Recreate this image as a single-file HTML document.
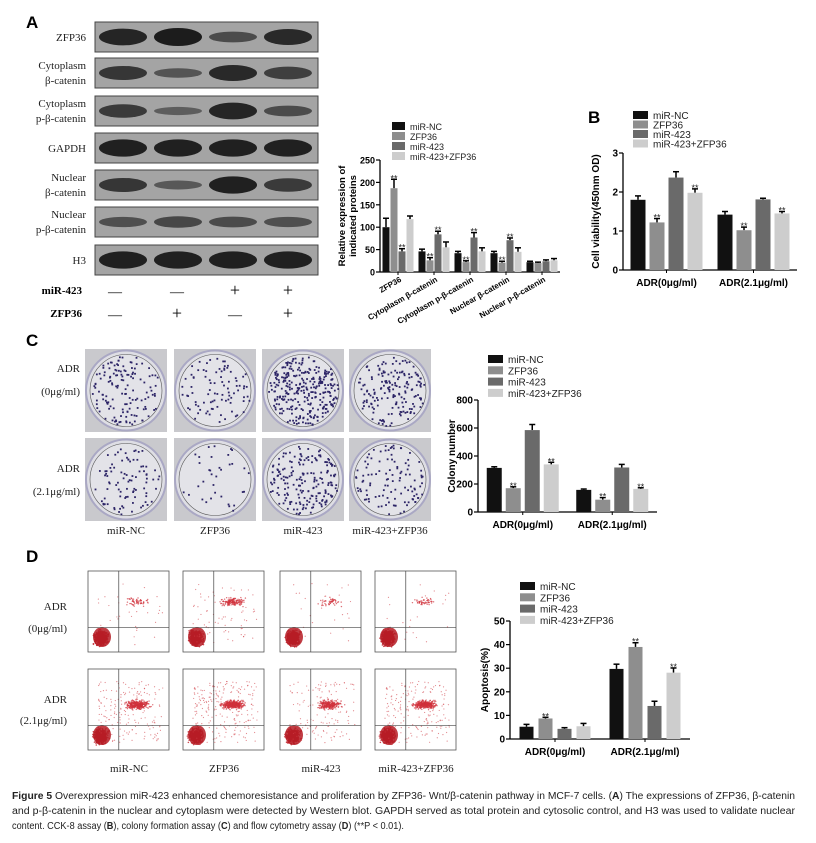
<!DOCTYPE html>
<html><head><meta charset="utf-8"><style>
body{margin:0;background:#fff}
svg{display:block;font-family:"Liberation Sans",sans-serif}
.serif{font-family:"Liberation Serif",serif}
</style></head><body>
<svg id="fig" width="816" height="843" viewBox="0 0 816 843" xmlns="http://www.w3.org/2000/svg">
<g id="blots"></g>
<g id="plates"></g>
<g id="flows"></g>
<g id="charts"></g>
<text x="26" y="28" font-size="17" font-weight="bold">A</text>
<text x="588" y="123" font-size="17" font-weight="bold">B</text>
<text x="26" y="346" font-size="17" font-weight="bold">C</text>
<text x="26" y="562" font-size="17" font-weight="bold">D</text>
<g font-size="10" fill="#222">
<text x="12" y="799" textLength="783" lengthAdjust="spacingAndGlyphs"><tspan font-weight="bold">Figure 5</tspan> Overexpression miR-423 enhanced chemoresistance and proliferation by ZFP36- Wnt/β-catenin pathway in MCF-7 cells. (<tspan font-weight="bold">A</tspan>) The expressions of ZFP36, β-catenin</text>
<text x="12" y="814" textLength="783" lengthAdjust="spacingAndGlyphs">and p-β-catenin in the nuclear and cytoplasm were detected by Western blot. GAPDH served as total protein and cytosolic control, and H3 was used to validate nuclear</text>
<text x="12" y="829" textLength="392" lengthAdjust="spacingAndGlyphs">content. CCK-8 assay (<tspan font-weight="bold">B</tspan>), colony formation assay (<tspan font-weight="bold">C</tspan>) and flow cytometry assay (<tspan font-weight="bold">D</tspan>) (**P &lt; 0.01).</text>
</g>
</svg>
<script>
// ===== data =====
const seriesNames = ["miR-NC","ZFP36","miR-423","miR-423+ZFP36"];
const seriesColors = ["#111111","#8e8e8e","#6a6a6a","#cdcdcd"];

const catsA = ["ZFP36","Cytoplasm β-catenin","Cytoplasm p-β-catenin","Nuclear β-catenin","Nuclear p-β-catenin"];
const valsA = [[100,187,46,118],[46,26,84,55],[42,22,77,46],[42,21,71,45],[22,20,24,26]];
const errA = [[20,20,6,7],[5,6,7,12],[4,3,11,8],[4,3,5,9],[2,2,3,4]];
const starsA = [[0,1,1,0],[0,1,1,0],[0,1,1,0],[0,1,1,0],[0,0,0,0]];
const ticksA = [0,50,100,150,200,250];

const catsB = ["ADR(0μg/ml)","ADR(2.1μg/ml)"];
const valsB = [[1.8,1.22,2.37,1.98],[1.42,1.02,1.81,1.45]];
const errB = [[0.1,0.1,0.15,0.1],[0.08,0.08,0.03,0.05]];
const starsB = [[0,1,0,1],[0,1,0,1]];
const ticksB = [0,1,2,3];

const catsC = ["ADR(0μg/ml)","ADR(2.1μg/ml)"];
const valsC = [[315,170,585,340],[158,88,318,165]];
const errC = [[8,10,40,15],[6,15,22,8]];
const starsC = [[0,1,0,1],[0,1,0,1]];
const ticksC = [0,200,400,600,800];

const catsD = ["ADR(0μg/ml)","ADR(2.1μg/ml)"];
const valsD = [[5.2,8.7,4.3,5.4],[29.7,39,14,28.1]];
const errD = [[1,0.5,0.5,1.2],[2,1.8,2,2]];
const starsD = [[0,1,0,0],[0,1,0,1]];
const ticksD = [0,10,20,30,40,50];

const NS="http://www.w3.org/2000/svg";
function mk(tag,attrs,parent){const e=document.createElementNS(NS,tag);for(const k in attrs)e.setAttribute(k,attrs[k]);if(parent)parent.appendChild(e);return e;}
let seed=12345;function rnd(){seed=(seed*1103515245+12345)%2147483648;return seed/2147483648;}
function gauss(){return (rnd()+rnd()+rnd()-1.5)/1.5;}

// ===== bar chart =====
function barChart(o){
  const g=mk('g',{},document.getElementById('charts'));
  
  
  const yS=v=>o.y0-(v/o.vmax)*(o.y0-o.yTop);
  const ax=mk('line',{x1:o.x0,y1:o.yTop,x2:o.x0,y2:o.y0,stroke:'#000','stroke-width':1.3},g);
  
  const xa=mk('line',{x1:o.x0,y1:o.y0,x2:o.x1,y2:o.y0,stroke:'#000','stroke-width':1.3},g);
  
  o.ticks.forEach(t=>{
    const y=yS(t);
    mk('line',{x1:o.x0-4,y1:y,x2:o.x0,y2:y,stroke:'#000','stroke-width':1.2},g);
    const tx=mk('text',{x:o.x0-5,y:y+3.5,'font-size':o.fs||10,'font-weight':'bold','text-anchor':'end'},g);
    tx.textContent=t;
    
  });
  const n=o.cats.length, gw=(o.x1-o.x0)/n;
  o.cats.forEach((c,i)=>{
    const cx=o.x0+gw*(i+0.5);
    mk('line',{x1:cx,y1:o.y0,x2:cx,y2:o.y0+3,stroke:'#000'},g);
    let lab;
    if(o.rot){lab=mk('text',{x:cx+4,y:o.y0+9,'font-size':8,'font-weight':'bold','text-anchor':'end',transform:`rotate(-30 ${cx+4} ${o.y0+9})`},g);}
    else lab=mk('text',{x:cx,y:o.y0+16,'font-size':10,'font-weight':'bold','text-anchor':'middle'},g);
    lab.textContent=c;
    
    o.vals[i].forEach((v,s)=>{
      const bx=cx+(s-1.5)*o.step-o.bw/2;
      const top=yS(v), et=yS(v+o.err[i][s]);
      mk('line',{x1:bx+o.bw/2,y1:top,x2:bx+o.bw/2,y2:et,stroke:'#000','stroke-width':1.5},g);
      mk('line',{x1:bx+o.bw/2-3,y1:et,x2:bx+o.bw/2+3,y2:et,stroke:'#000','stroke-width':1.5},g);
      const r=mk('rect',{x:bx,y:top,width:o.bw,height:o.y0-top,fill:seriesColors[s]},g);
      
      
      if(o.stars[i][s]){
        const st=mk('text',{x:bx+o.bw/2,y:et+2,'font-size':9,'text-anchor':'middle',fill:'#222'},g);
        st.textContent='**';
        
      }
    });
  });
  const yt=mk('text',{'font-size':o.tfs||10,'font-weight':'bold','text-anchor':'middle',transform:`translate(${o.titleX},${(o.y0+o.yTop)/2}) rotate(-90)`},g);
  o.title.forEach((t,k)=>{const ts=mk('tspan',{x:0,dy:k?11:0},yt);ts.textContent=t;});
  
  const lg=mk('g',{},g);
  
  seriesNames.forEach((nm,s)=>{
    const y=o.legY+s*o.legStep;
    const e=mk('g',{},lg);
    
    mk('rect',{x:o.legX,y:y-4,width:o.legW,height:8,fill:seriesColors[s]},e);
    const t=mk('text',{x:o.legX+o.legW+5,y:y+4,'font-size':o.legFs||10,fill:'#222'},e);t.textContent=nm;
  });
}
barChart({name:'chart-a-protein-expression',cats:catsA,vals:valsA,err:errA,stars:starsA,ticks:ticksA,vmax:250,x0:380,x1:560,y0:272,yTop:160,bw:7,step:8,rot:true,fs:9,tfs:9.5,title:['Relative expression of','indicated proteins'],titleX:345,legX:392,legY:126,legStep:10,legW:13,legFs:9});
barChart({name:'chart-b-cell-viability',cats:catsB,vals:valsB,err:errB,stars:starsB,ticks:ticksB,vmax:3,x0:623,x1:797,y0:270,yTop:153,bw:15,step:19,title:['Cell viability(450nm OD)'],titleX:599,legX:633,legY:115,legStep:9.5,legW:15});
barChart({name:'chart-c-colony-number',cats:catsC,vals:valsC,err:errC,stars:starsC,ticks:ticksC,vmax:800,x0:478,x1:657,y0:512,yTop:400,bw:15,step:19,title:['Colony number'],titleX:455,legX:488,legY:359,legStep:11.3,legW:15});
barChart({name:'chart-d-apoptosis',cats:catsD,vals:valsD,err:errD,stars:starsD,ticks:ticksD,vmax:50,x0:510,x1:690,y0:739,yTop:621,bw:14,step:19,title:['Apoptosis(%)'],titleX:488,legX:520,legY:586,legStep:11.3,legW:15});

// ===== western blots =====
const blotRows=[["ZFP36"],["Cytoplasm","β-catenin"],["Cytoplasm","p-β-catenin"],["GAPDH"],["Nuclear","β-catenin"],["Nuclear","p-β-catenin"],["H3"]];
const blotTop=[22,58,96,133,170,207,245];
const bandInt=[[0.9,1,0.45,0.85],[0.7,0.35,0.85,0.6],[0.65,0.25,0.9,0.45],[0.95,0.95,0.95,0.95],[0.7,0.3,0.95,0.65],[0.4,0.5,0.45,0.4],[0.95,0.95,0.95,0.95]];
const laneX=[123,178,233,288];
const bl=document.getElementById('blots');
blotRows.forEach((lab,r)=>{
  const g=mk('g',{},bl);
  
  
  const y=blotTop[r];
  mk('rect',{x:95,y:y,width:223,height:30,fill:'#a4a4a4',stroke:'#444','stroke-width':1},g);
  bandInt[r].forEach((v,l)=>{
    mk('ellipse',{cx:laneX[l],cy:y+15,rx:24,ry:2.5+v*6.5,fill:'#151515',opacity:0.35+v*0.6},g);
  });
  lab.forEach((t,k)=>{
    const tx=mk('text',{x:86,y:y+(lab.length===1?19:11+k*15),'font-size':11,'text-anchor':'end',class:'serif',fill:'#222'},g);tx.textContent=t;
  });
});
const signs=[["miR-423",290,["—","—","+","+"]],["ZFP36",313,["—","+","—","+"]]];
signs.forEach(([nm,y,s])=>{
  const g=mk('g',{},bl);
  
  
  const t=mk('text',{x:82,y:y+4,'font-size':11,'font-weight':'bold','text-anchor':'end',class:'serif'},g);t.textContent=nm;
  s.forEach((c,l)=>{const e=mk('text',{x:[115,177,235,288][l],y:y+6,'font-size':c==='+'?18:14,'text-anchor':'middle',class:'serif'},g);e.textContent=c;});
});

// ===== colony plates =====
const pl=document.getElementById('plates');
const plateX=[85,174,262,349], plateY=[349,438];
const colonyCount=[[140,90,300,170],[90,35,190,110]];
const plateLabels=["miR-NC","ZFP36","miR-423","miR-423+ZFP36"];
plateY.forEach((py,r)=>{
  plateX.forEach((px,c)=>{
    const g=mk('g',{},pl);
    
    
    mk('rect',{x:px,y:py,width:82,height:83,fill:'#c9c9cd'},g);
    mk('circle',{cx:px+41,cy:py+41.5,r:40,fill:'#dedee4',stroke:'#aaa8c4','stroke-width':2},g);
    mk('circle',{cx:px+41,cy:py+41.5,r:36,fill:'#e3e3e8',stroke:'#555','stroke-width':0.6},g);
    for(let k=0;k<colonyCount[r][c];k++){
      const a=rnd()*Math.PI*2, rr=Math.sqrt(rnd())*35;
      mk('rect',{x:px+41+Math.cos(a)*rr,y:py+41.5+Math.sin(a)*rr,width:1.8,height:1.8,fill:'#2c2466'},g);
    }
  });
});
[["ADR",372],["(0μg/ml)",395],["ADR",472],["(2.1μg/ml)",495]].forEach(([t,y])=>{const e=mk('text',{x:80,y:y,'font-size':11,'text-anchor':'end',class:'serif',fill:'#222'},pl);e.textContent=t;});
plateLabels.forEach((t,c)=>{const e=mk('text',{x:plateX[c]+41,y:534,'font-size':11,'text-anchor':'middle',class:'serif',fill:'#222'},pl);e.textContent=t;});

// ===== flow cytometry =====
const fl=document.getElementById('flows');
const flowX=[88,183,280,375], flowY=[571,669];
const upperDensity=[[60,150,50,50],[350,420,260,360]];
flowY.forEach((py,r)=>{
  flowX.forEach((px,c)=>{
    const g=mk('g',{},fl);
    
    
    const w=81,h=81;
    mk('rect',{x:px,y:py,width:w,height:h,fill:'#fff',stroke:'#555','stroke-width':0.8},g);
    for(let k=0;k<500;k++){mk('circle',{cx:px+13+gauss()*9,cy:py+h-14+gauss()*10,r:0.8,fill:'#c0202a',opacity:0.8},g);}
    mk('ellipse',{cx:px+14,cy:py+h-15,rx:9,ry:10,fill:'#b51c24',opacity:0.85},g);
    for(let k=0;k<upperDensity[r][c];k++){mk('circle',{cx:px+50+gauss()*16,cy:py+h*0.38+gauss()*6+(r?5:0),r:0.7,fill:'#d0303a',opacity:0.7},g);}
    for(let k=0;k<upperDensity[r][c]/2;k++){mk('circle',{cx:px+10+rnd()*65,cy:py+12+rnd()*62,r:0.6,fill:'#d04048',opacity:0.6},g);}
    mk('line',{x1:px+w*0.38,y1:py,x2:px+w*0.38,y2:py+h,stroke:'#444','stroke-width':0.7},g);
    mk('line',{x1:px,y1:py+h*0.7,x2:px+w,y2:py+h*0.7,stroke:'#444','stroke-width':0.7},g);
  });
});
[["ADR",610],["(0μg/ml)",632],["ADR",703],["(2.1μg/ml)",724]].forEach(([t,y])=>{const e=mk('text',{x:67,y:y,'font-size':11,'text-anchor':'end',class:'serif',fill:'#222'},fl);e.textContent=t;});
plateLabels.forEach((t,c)=>{const e=mk('text',{x:flowX[c]+41,y:772,'font-size':11,'text-anchor':'middle',class:'serif',fill:'#222'},fl);e.textContent=t;});
</script>
</body></html>
